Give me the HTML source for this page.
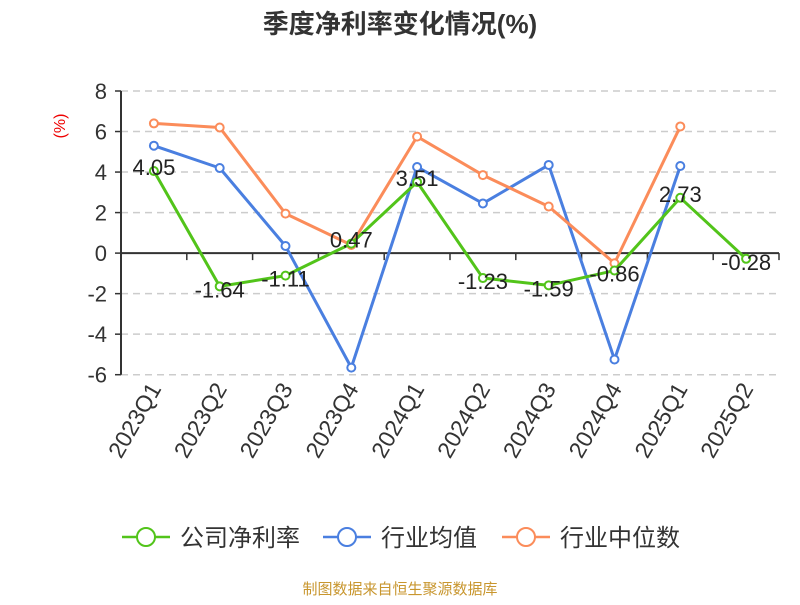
<!DOCTYPE html>
<html><head><meta charset="utf-8"><style>
body{margin:0;background:#fff;font-family:"Liberation Sans","Noto Sans CJK SC",sans-serif;}
</style></head><body>
<svg id="c" width="800" height="600" xmlns="http://www.w3.org/2000/svg" font-family="Liberation Sans, Noto Sans CJK SC, sans-serif">
<text x="400" y="33" text-anchor="middle" font-size="26" font-weight="bold" fill="#333">季度净利率变化情况(%)</text>
<text x="65" y="126" text-anchor="middle" font-size="16" fill="#e00" transform="rotate(-90 65 126)">(%)</text>
<g id="plot"></g>
<g>
<g><line x1="122" y1="537" x2="170" y2="537" stroke="#52c41a" stroke-width="2.5"/><circle cx="146" cy="537" r="9" fill="#fff" stroke="#52c41a" stroke-width="2"/><text x="180" y="546" font-size="24" fill="#333">公司净利率</text></g>
<g><line x1="323" y1="537" x2="371" y2="537" stroke="#4a7fe0" stroke-width="2.5"/><circle cx="347" cy="537" r="9" fill="#fff" stroke="#4a7fe0" stroke-width="2"/><text x="381" y="546" font-size="24" fill="#333">行业均值</text></g>
<g><line x1="502" y1="537" x2="550" y2="537" stroke="#fb8c5a" stroke-width="2.5"/><circle cx="526" cy="537" r="9" fill="#fff" stroke="#fb8c5a" stroke-width="2"/><text x="560" y="546" font-size="24" fill="#333">行业中位数</text></g>
</g>
<text x="400" y="594" text-anchor="middle" font-size="15" fill="#c8962e">制图数据来自恒生聚源数据库</text>
</svg>
<script>
const categories=["2023Q1","2023Q2","2023Q3","2023Q4","2024Q1","2024Q2","2024Q3","2024Q4","2025Q1","2025Q2"];
const companyValues=[4.05,-1.64,-1.11,0.47,3.51,-1.23,-1.59,-0.86,2.73,-0.28];
const avgValues=[5.3,4.2,0.35,-5.65,4.25,2.45,4.35,-5.25,4.3];
const medianValues=[6.4,6.2,1.95,0.4,5.75,3.85,2.3,-0.5,6.25];
const yTicks=[8,6,4,2,0,-2,-4,-6];
const NS="http://www.w3.org/2000/svg";
const L=121,R=779,T=91,B=374.7,yMin=-6,yMax=8;
const bw=(R-L)/categories.length;
const xs=i=>L+bw*(i+0.5);
const ys=v=>B-(v-yMin)/(yMax-yMin)*(B-T);
const g=document.getElementById('plot');
function mk(t,a){const e=document.createElementNS(NS,t);for(const k in a)e.setAttribute(k,a[k]);g.appendChild(e);return e;}
yTicks.forEach(v=>{
  const y=ys(v);
  if(v!==0){const l=mk('line',{x1:L,x2:R,y1:y,y2:y,stroke:'#ccc','stroke-width':1.5,'stroke-dasharray':'7,5'});
  
  }
  const tk=mk('line',{x1:L-6,x2:L,y1:y,y2:y,stroke:'#333','stroke-width':1.5});
  
  
  const t=mk('text',{x:L-14,y:y+8,'text-anchor':'end','font-size':22,fill:'#333'});t.textContent=v;
  
  
});
const ya=mk('line',{x1:L,x2:L,y1:T,y2:B,stroke:'#333','stroke-width':2});


const y0=ys(0);
const xa=mk('line',{x1:L,x2:R,y1:y0,y2:y0,stroke:'#333','stroke-width':2});


categories.forEach((c,i)=>{
  const x=L+bw*(i+1);
  const tk=mk('line',{x1:x,x2:x,y1:y0,y2:y0+7,stroke:'#333','stroke-width':1.5});
  
  
  const cx=xs(i)+8,cy=B+14;
  const t=mk('text',{x:cx,y:cy,'text-anchor':'end','font-size':23,fill:'#333',transform:`rotate(-60 ${cx} ${cy})`});t.textContent=c;
  
  
});
function series(vals,color,name){
  const p=mk('polyline',{points:vals.map((v,i)=>xs(i)+','+ys(v)).join(' '),fill:'none',stroke:color,'stroke-width':3,'stroke-linejoin':'round'});
  
  
  vals.forEach((v,i)=>{const c=mk('circle',{cx:xs(i),cy:ys(v),r:4,fill:'#fff',stroke:color,'stroke-width':2});
  
  });
}
series(avgValues,'#4a7fe0','industry-avg');
series(medianValues,'#fb8c5a','industry-median');
series(companyValues,'#52c41a','company');
companyValues.forEach((v,i)=>{
  const t=mk('text',{x:xs(i),y:v>=0?ys(v)+4:ys(v)+11,'text-anchor':'middle','font-size':22,fill:'#222'});
  t.textContent=v.toFixed(2);
  
  
});
</script>
</body></html>
